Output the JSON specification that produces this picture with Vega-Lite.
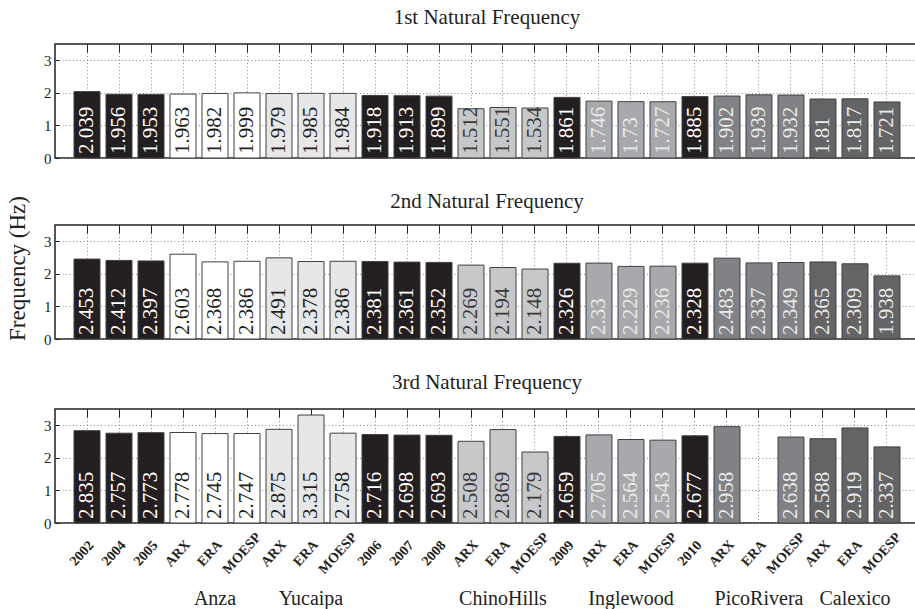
{
  "$schema": "https://vega.github.io/schema/vega-lite/v6.json",
  "padding": {"left": 5, "top": 5, "right": 0, "bottom": 0},
  "config": {
    "font": "Liberation Serif",
    "view": {"stroke": "#231f20", "strokeWidth": 1.5},
    "title": {"font": "Liberation Serif", "fontSize": 21, "fontWeight": "normal", "color": "#231f20", "baseline": "alphabetic", "offset": 16},
    "text": {"font": "Liberation Serif"},
    "axis": {
      "domain": false,
      "gridDash": [1, 2.5],
      "gridColor": "#8a8a8a",
      "gridWidth": 1,
      "labelFont": "Liberation Serif",
      "labelColor": "#231f20",
      "titleFont": "Liberation Serif",
      "titleFontWeight": "normal",
      "titleColor": "#231f20"
    },
    "concat": {"spacing": 22}
  },
  "datasets": {
    "freq": [
      {"mode": "1st", "key": "2002", "group": "Year", "value": 2.039},
      {"mode": "1st", "key": "2004", "group": "Year", "value": 1.956},
      {"mode": "1st", "key": "2005", "group": "Year", "value": 1.953},
      {"mode": "1st", "key": "Anza ARX", "group": "Anza", "value": 1.963},
      {"mode": "1st", "key": "Anza ERA", "group": "Anza", "value": 1.982},
      {"mode": "1st", "key": "Anza MOESP", "group": "Anza", "value": 1.999},
      {"mode": "1st", "key": "Yucaipa ARX", "group": "Yucaipa", "value": 1.979},
      {"mode": "1st", "key": "Yucaipa ERA", "group": "Yucaipa", "value": 1.985},
      {"mode": "1st", "key": "Yucaipa MOESP", "group": "Yucaipa", "value": 1.984},
      {"mode": "1st", "key": "2006", "group": "Year", "value": 1.918},
      {"mode": "1st", "key": "2007", "group": "Year", "value": 1.913},
      {"mode": "1st", "key": "2008", "group": "Year", "value": 1.899},
      {"mode": "1st", "key": "ChinoHills ARX", "group": "ChinoHills", "value": 1.512},
      {"mode": "1st", "key": "ChinoHills ERA", "group": "ChinoHills", "value": 1.551},
      {"mode": "1st", "key": "ChinoHills MOESP", "group": "ChinoHills", "value": 1.534},
      {"mode": "1st", "key": "2009", "group": "Year", "value": 1.861},
      {"mode": "1st", "key": "Inglewood ARX", "group": "Inglewood", "value": 1.746},
      {"mode": "1st", "key": "Inglewood ERA", "group": "Inglewood", "value": 1.73},
      {"mode": "1st", "key": "Inglewood MOESP", "group": "Inglewood", "value": 1.727},
      {"mode": "1st", "key": "2010", "group": "Year", "value": 1.885},
      {"mode": "1st", "key": "PicoRivera ARX", "group": "PicoRivera", "value": 1.902},
      {"mode": "1st", "key": "PicoRivera ERA", "group": "PicoRivera", "value": 1.939},
      {"mode": "1st", "key": "PicoRivera MOESP", "group": "PicoRivera", "value": 1.932},
      {"mode": "1st", "key": "Calexico ARX", "group": "Calexico", "value": 1.81},
      {"mode": "1st", "key": "Calexico ERA", "group": "Calexico", "value": 1.817},
      {"mode": "1st", "key": "Calexico MOESP", "group": "Calexico", "value": 1.721},

      {"mode": "2nd", "key": "2002", "group": "Year", "value": 2.453},
      {"mode": "2nd", "key": "2004", "group": "Year", "value": 2.412},
      {"mode": "2nd", "key": "2005", "group": "Year", "value": 2.397},
      {"mode": "2nd", "key": "Anza ARX", "group": "Anza", "value": 2.603},
      {"mode": "2nd", "key": "Anza ERA", "group": "Anza", "value": 2.368},
      {"mode": "2nd", "key": "Anza MOESP", "group": "Anza", "value": 2.386},
      {"mode": "2nd", "key": "Yucaipa ARX", "group": "Yucaipa", "value": 2.491},
      {"mode": "2nd", "key": "Yucaipa ERA", "group": "Yucaipa", "value": 2.378},
      {"mode": "2nd", "key": "Yucaipa MOESP", "group": "Yucaipa", "value": 2.386},
      {"mode": "2nd", "key": "2006", "group": "Year", "value": 2.381},
      {"mode": "2nd", "key": "2007", "group": "Year", "value": 2.361},
      {"mode": "2nd", "key": "2008", "group": "Year", "value": 2.352},
      {"mode": "2nd", "key": "ChinoHills ARX", "group": "ChinoHills", "value": 2.269},
      {"mode": "2nd", "key": "ChinoHills ERA", "group": "ChinoHills", "value": 2.194},
      {"mode": "2nd", "key": "ChinoHills MOESP", "group": "ChinoHills", "value": 2.148},
      {"mode": "2nd", "key": "2009", "group": "Year", "value": 2.326},
      {"mode": "2nd", "key": "Inglewood ARX", "group": "Inglewood", "value": 2.33},
      {"mode": "2nd", "key": "Inglewood ERA", "group": "Inglewood", "value": 2.229},
      {"mode": "2nd", "key": "Inglewood MOESP", "group": "Inglewood", "value": 2.236},
      {"mode": "2nd", "key": "2010", "group": "Year", "value": 2.328},
      {"mode": "2nd", "key": "PicoRivera ARX", "group": "PicoRivera", "value": 2.483},
      {"mode": "2nd", "key": "PicoRivera ERA", "group": "PicoRivera", "value": 2.337},
      {"mode": "2nd", "key": "PicoRivera MOESP", "group": "PicoRivera", "value": 2.349},
      {"mode": "2nd", "key": "Calexico ARX", "group": "Calexico", "value": 2.365},
      {"mode": "2nd", "key": "Calexico ERA", "group": "Calexico", "value": 2.309},
      {"mode": "2nd", "key": "Calexico MOESP", "group": "Calexico", "value": 1.938},

      {"mode": "3rd", "key": "2002", "group": "Year", "value": 2.835},
      {"mode": "3rd", "key": "2004", "group": "Year", "value": 2.757},
      {"mode": "3rd", "key": "2005", "group": "Year", "value": 2.773},
      {"mode": "3rd", "key": "Anza ARX", "group": "Anza", "value": 2.778},
      {"mode": "3rd", "key": "Anza ERA", "group": "Anza", "value": 2.745},
      {"mode": "3rd", "key": "Anza MOESP", "group": "Anza", "value": 2.747},
      {"mode": "3rd", "key": "Yucaipa ARX", "group": "Yucaipa", "value": 2.875},
      {"mode": "3rd", "key": "Yucaipa ERA", "group": "Yucaipa", "value": 3.315},
      {"mode": "3rd", "key": "Yucaipa MOESP", "group": "Yucaipa", "value": 2.758},
      {"mode": "3rd", "key": "2006", "group": "Year", "value": 2.716},
      {"mode": "3rd", "key": "2007", "group": "Year", "value": 2.698},
      {"mode": "3rd", "key": "2008", "group": "Year", "value": 2.693},
      {"mode": "3rd", "key": "ChinoHills ARX", "group": "ChinoHills", "value": 2.508},
      {"mode": "3rd", "key": "ChinoHills ERA", "group": "ChinoHills", "value": 2.869},
      {"mode": "3rd", "key": "ChinoHills MOESP", "group": "ChinoHills", "value": 2.179},
      {"mode": "3rd", "key": "2009", "group": "Year", "value": 2.659},
      {"mode": "3rd", "key": "Inglewood ARX", "group": "Inglewood", "value": 2.705},
      {"mode": "3rd", "key": "Inglewood ERA", "group": "Inglewood", "value": 2.564},
      {"mode": "3rd", "key": "Inglewood MOESP", "group": "Inglewood", "value": 2.543},
      {"mode": "3rd", "key": "2010", "group": "Year", "value": 2.677},
      {"mode": "3rd", "key": "PicoRivera ARX", "group": "PicoRivera", "value": 2.958},
      {"mode": "3rd", "key": "PicoRivera MOESP", "group": "PicoRivera", "value": 2.638},
      {"mode": "3rd", "key": "Calexico ARX", "group": "Calexico", "value": 2.588},
      {"mode": "3rd", "key": "Calexico ERA", "group": "Calexico", "value": 2.919},
      {"mode": "3rd", "key": "Calexico MOESP", "group": "Calexico", "value": 2.337}
    ],
    "sites": [
      {"site": "Anza", "key": "Anza ERA"},
      {"site": "Yucaipa", "key": "Yucaipa ERA"},
      {"site": "ChinoHills", "key": "ChinoHills ERA"},
      {"site": "Inglewood", "key": "Inglewood ERA"},
      {"site": "PicoRivera", "key": "PicoRivera ERA"},
      {"site": "Calexico", "key": "Calexico ERA"}
    ]
  },
  "vconcat": [
    {
      "width": 864,
      "height": 114,
      "title": "1st Natural Frequency",
      "resolve": {"axis": {"x": "independent", "y": "independent"}},
      "layer": [
        {
          "data": {"name": "freq"},
          "transform": [{"filter": "datum.mode == '1st'"}],
          "mark": {"type": "bar", "stroke": "#414042", "strokeWidth": 1},
          "encoding": {
            "x": {"field": "key", "type": "nominal", "sort": null,
              "scale": {"domain": ["2002","2004","2005","Anza ARX","Anza ERA","Anza MOESP","Yucaipa ARX","Yucaipa ERA","Yucaipa MOESP","2006","2007","2008","ChinoHills ARX","ChinoHills ERA","ChinoHills MOESP","2009","Inglewood ARX","Inglewood ERA","Inglewood MOESP","2010","PicoRivera ARX","PicoRivera ERA","PicoRivera MOESP","Calexico ARX","Calexico ERA","Calexico MOESP"], "paddingInner": 0.1875, "paddingOuter": 0.594},
              "axis": {"orient": "top", "labels": false, "title": null, "ticks": true, "tickSize": -8, "tickColor": "#231f20", "tickWidth": 1, "grid": true}},
            "y": {"field": "value", "type": "quantitative",
              "scale": {"domain": [0, 3.5], "nice": false},
              "axis": {"values": [0, 1, 2, 3], "title": null, "grid": true, "ticks": true, "tickSize": -4, "tickColor": "#231f20", "labelPadding": 8, "labelFontSize": 15}},
            "color": {"field": "group", "type": "nominal", "legend": null,
              "scale": {"domain": ["Year", "Anza", "Yucaipa", "ChinoHills", "Inglewood", "PicoRivera", "Calexico"],
                        "range": ["#231f20", "#ffffff", "#e6e7e8", "#c7c8ca", "#a7a9ac", "#808285", "#636466"]}}
          }
        },
        {
          "data": {"name": "freq"},
          "transform": [{"filter": "datum.mode == '1st'"}],
          "mark": {"type": "text", "font": "Liberation Serif", "angle": 270, "align": "left", "baseline": "middle", "dx": 4, "fontSize": 21},
          "encoding": {
            "x": {"field": "key", "type": "nominal", "sort": null, "axis": null},
            "y": {"datum": 0, "type": "quantitative", "axis": null},
            "text": {"field": "value", "type": "quantitative", "format": "~g"},
            "color": {
              "condition": [
                {"test": "datum.group == 'Anza' || datum.group == 'Yucaipa'", "value": "#231f20"},
                {"test": "datum.group == 'ChinoHills'", "value": "#3a3a3a"},
                {"test": "datum.group == 'Inglewood' || datum.group == 'PicoRivera' || datum.group == 'Calexico'", "value": "#ebebeb"}
              ],
              "value": "#ffffff"
            }
          }
        }
      ]
    },
    {
      "width": 864,
      "height": 114,
      "title": {"text": "2nd Natural Frequency", "offset": -16},
      "resolve": {"axis": {"x": "independent", "y": "independent"}},
      "layer": [
        {
          "data": {"name": "freq"},
          "transform": [{"filter": "datum.mode == '2nd'"}],
          "mark": {"type": "bar", "stroke": "#414042", "strokeWidth": 1},
          "encoding": {
            "x": {"field": "key", "type": "nominal", "sort": null,
              "scale": {"domain": ["2002","2004","2005","Anza ARX","Anza ERA","Anza MOESP","Yucaipa ARX","Yucaipa ERA","Yucaipa MOESP","2006","2007","2008","ChinoHills ARX","ChinoHills ERA","ChinoHills MOESP","2009","Inglewood ARX","Inglewood ERA","Inglewood MOESP","2010","PicoRivera ARX","PicoRivera ERA","PicoRivera MOESP","Calexico ARX","Calexico ERA","Calexico MOESP"], "paddingInner": 0.1875, "paddingOuter": 0.594},
              "axis": {"orient": "top", "labels": false, "title": null, "ticks": true, "tickSize": -8, "tickColor": "#231f20", "tickWidth": 1, "grid": true}},
            "y": {"field": "value", "type": "quantitative",
              "scale": {"domain": [0, 3.5], "nice": false},
              "axis": {"values": [0, 1, 2, 3], "title": "Frequency (Hz)", "titleFontSize": 23, "titleY": 43, "titlePadding": 14, "grid": true, "ticks": true, "tickSize": -4, "tickColor": "#231f20", "labelPadding": 8, "labelFontSize": 15}},
            "color": {"field": "group", "type": "nominal", "legend": null,
              "scale": {"domain": ["Year", "Anza", "Yucaipa", "ChinoHills", "Inglewood", "PicoRivera", "Calexico"],
                        "range": ["#231f20", "#ffffff", "#e6e7e8", "#c7c8ca", "#a7a9ac", "#808285", "#636466"]}}
          }
        },
        {
          "data": {"name": "freq"},
          "transform": [{"filter": "datum.mode == '2nd'"}],
          "mark": {"type": "text", "font": "Liberation Serif", "angle": 270, "align": "left", "baseline": "middle", "dx": 4, "fontSize": 21},
          "encoding": {
            "x": {"field": "key", "type": "nominal", "sort": null, "axis": null},
            "y": {"datum": 0, "type": "quantitative", "axis": null},
            "text": {"field": "value", "type": "quantitative", "format": "~g"},
            "color": {
              "condition": [
                {"test": "datum.group == 'Anza' || datum.group == 'Yucaipa'", "value": "#231f20"},
                {"test": "datum.group == 'ChinoHills'", "value": "#3a3a3a"},
                {"test": "datum.group == 'Inglewood' || datum.group == 'PicoRivera' || datum.group == 'Calexico'", "value": "#ebebeb"}
              ],
              "value": "#ffffff"
            }
          }
        }
      ]
    },
    {
      "width": 864,
      "height": 114,
      "title": "3rd Natural Frequency",
      "resolve": {"axis": {"x": "independent", "y": "independent"}},
      "layer": [
        {
          "data": {"name": "freq"},
          "transform": [{"filter": "datum.mode == '3rd'"}],
          "mark": {"type": "bar", "stroke": "#414042", "strokeWidth": 1},
          "encoding": {
            "x": {"field": "key", "type": "nominal", "sort": null,
              "scale": {"domain": ["2002","2004","2005","Anza ARX","Anza ERA","Anza MOESP","Yucaipa ARX","Yucaipa ERA","Yucaipa MOESP","2006","2007","2008","ChinoHills ARX","ChinoHills ERA","ChinoHills MOESP","2009","Inglewood ARX","Inglewood ERA","Inglewood MOESP","2010","PicoRivera ARX","PicoRivera ERA","PicoRivera MOESP","Calexico ARX","Calexico ERA","Calexico MOESP"], "paddingInner": 0.1875, "paddingOuter": 0.594},
              "axis": {"orient": "top", "labels": false, "title": null, "ticks": true, "tickSize": -8, "tickColor": "#231f20", "tickWidth": 1, "grid": true}},
            "y": {"field": "value", "type": "quantitative",
              "scale": {"domain": [0, 3.5], "nice": false},
              "axis": {"values": [0, 1, 2, 3], "title": null, "grid": true, "ticks": true, "tickSize": -4, "tickColor": "#231f20", "labelPadding": 8, "labelFontSize": 15}},
            "color": {"field": "group", "type": "nominal", "legend": null,
              "scale": {"domain": ["Year", "Anza", "Yucaipa", "ChinoHills", "Inglewood", "PicoRivera", "Calexico"],
                        "range": ["#231f20", "#ffffff", "#e6e7e8", "#c7c8ca", "#a7a9ac", "#808285", "#636466"]}}
          }
        },
        {
          "data": {"name": "freq"},
          "transform": [{"filter": "datum.mode == '3rd'"}],
          "mark": {"type": "text", "font": "Liberation Serif", "angle": 270, "align": "left", "baseline": "middle", "dx": 4, "fontSize": 21},
          "encoding": {
            "x": {"field": "key", "type": "nominal", "sort": null, "axis": null},
            "y": {"datum": 0, "type": "quantitative", "axis": null},
            "text": {"field": "value", "type": "quantitative", "format": "~g"},
            "color": {
              "condition": [
                {"test": "datum.group == 'Anza' || datum.group == 'Yucaipa'", "value": "#231f20"},
                {"test": "datum.group == 'ChinoHills'", "value": "#3a3a3a"},
                {"test": "datum.group == 'Inglewood' || datum.group == 'PicoRivera' || datum.group == 'Calexico'", "value": "#ebebeb"}
              ],
              "value": "#ffffff"
            }
          }
        },
        {
          "data": {"name": "sites"},
          "mark": {"type": "text", "font": "Liberation Serif", "fontSize": 20, "baseline": "alphabetic", "align": "center", "dy": 82, "color": "#231f20"},
          "encoding": {
            "x": {"field": "key", "type": "nominal", "sort": null,
              "axis": {"orient": "bottom", "title": null, "ticks": false, "grid": false,
                "labelExpr": "indexof(datum.value, ' ') > 0 ? split(datum.value, ' ')[1] : datum.value",
                "labelAngle": -48, "labelAlign": "center", "labelBaseline": "middle",
                "labelPadding": 30, "labelOffset": -5, "labelFontSize": 14, "labelFontWeight": "bold",
                "labelFont": "Liberation Serif"}},
            "y": {"datum": 0, "type": "quantitative", "axis": null},
            "text": {"field": "site"}
          }
        }
      ]
    }
  ]
}
